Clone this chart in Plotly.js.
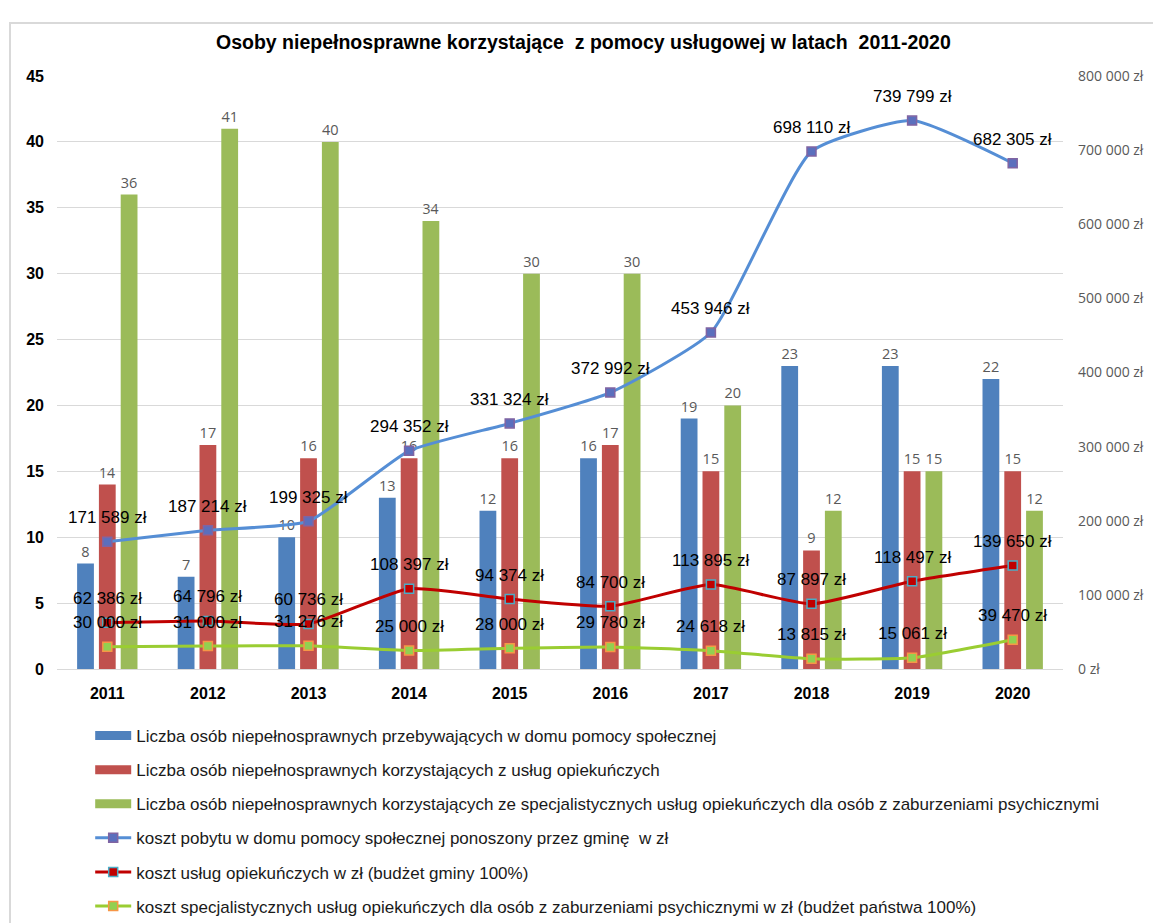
<!DOCTYPE html>
<html><head><meta charset="utf-8">
<script src="https://cdn.plot.ly/plotly-3.0.1.min.js"></script>
<style>
html,body{margin:0;padding:0;background:#fff;overflow:hidden;width:1153px;height:923px;}
#wrap{position:relative;width:1153px;height:923px;overflow:hidden;}
#chart{width:1153px;height:960px;}
#frame{position:absolute;left:9px;top:22px;width:1160px;height:920px;border:2px solid #d9d9d9;pointer-events:none;}
</style>
</head><body>
<div id="wrap"><div id="chart"></div><div id="frame"></div></div>
<script>
const years = ['2011','2012','2013','2014','2015','2016','2017','2018','2019','2020'];
const dpsCount = [8,7,10,13,12,16,19,23,23,22];
const opiekCount = [14,17,16,16,16,17,15,9,15,15];
const specCount = [36,41,40,34,30,30,20,12,15,12];
const dpsCost = [171589,187214,199325,294352,331324,372992,453946,698110,739799,682305];
const opiekCost = [62386,64796,60736,108397,94374,84700,113895,87897,118497,139650];
const specCost = [30000,31000,31276,25000,28000,29780,24618,13815,15061,39470];
const names = [
 'Liczba osób niepełnosprawnych przebywających w domu pomocy społecznej',
 'Liczba osób niepełnosprawnych korzystających z usług opiekuńczych',
 'Liczba osób niepełnosprawnych korzystających ze specjalistycznych usług opiekuńczych dla osób z zaburzeniami psychicznymi',
 'koszt pobytu w domu pomocy społecznej ponoszony przez gminę  w zł',
 'koszt usług opiekuńczych w zł (budżet gminy 100%)',
 'koszt specjalistycznych usług opiekuńczych dla osób z zaburzeniami psychicznymi w zł (budżet państwa 100%)'
];
const NF = '"Liberation Sans Narrow", "Arial Narrow", "Liberation Sans", Arial, sans-serif';
const barFont = {family:'"Open Sans", "Liberation Sans", sans-serif', size:14.5, color:'#595959'};
function bar(y, name, color, g){
  return {type:'bar', x:years, y:y, name:name, marker:{color:color},
    text:y.map(String), textposition:'outside', textfont:barFont, cliponaxis:false,
    legendgroup:g, showlegend:false, hoverinfo:'y'};
}
// legend key for a bar series (wide flat swatch, as in the original legend)
function barKey(name, color, g){
  return {type:'scatter', mode:'lines', x:[null], y:[null], name:name,
    line:{color:color, width:9}, legendgroup:g, showlegend:true, hoverinfo:'skip'};
}
function line(y, name, lc, mfill, mline, g){
  return {type:'scatter', mode:'lines+markers', x:years, y:y, yaxis:'y2', name:name,
    line:{color:lc, width:3, shape:'spline', smoothing:0.5},
    marker:{symbol:'square', size:9, color:mfill, line:{color:mline, width:1.5}},
    cliponaxis:false, legendgroup:g};
}
const data = [
  bar(dpsCount, names[0], '#4f81bd','a'),
  bar(opiekCount, names[1], '#c0504d','b'),
  bar(specCount, names[2], '#9bbb59','c'),
  barKey(names[0], '#4f81bd','a'),
  barKey(names[1], '#c0504d','b'),
  barKey(names[2], '#9bbb59','c'),
  line(dpsCost, names[3], '#558ed5', '#5b6fbd', '#8064a2','d'),
  line(opiekCost, names[4], '#c00000', '#c00000', '#4bacc6','e'),
  line(specCost, names[5], '#9acd32', '#92d050', '#f79646','f')
];
const fmt = v => String(v).replace(/\B(?=(\d{3})+(?!\d))/g, ' ') + ' zł';
const annotations = [];
[dpsCost, opiekCost, specCost].forEach(series => {
  series.forEach((v, i) => {
    annotations.push({x:i, y:v, xref:'x', yref:'y2', text:fmt(v), showarrow:false,
      yshift:24, xanchor:'center', yanchor:'middle',
      font:{family:NF, size:17, color:'#000'}});
  });
});
const H = 960;
const layout = {
  width:1153, height:H,
  margin:{l:57, r:90, t:76, b:H-669},
  separators:', ',
  paper_bgcolor:'#fff', plot_bgcolor:'#fff',
  title:{text:'Osoby niepełnosprawne korzystające  z pomocy usługowej w latach  2011-2020',
    font:{family:NF, size:19.5, color:'#000', weight:'bold'}, x:0.506, xanchor:'center', y:1-42/H, yanchor:'middle'},
  barmode:'group', bargap:0.35, bargroupgap:0.23,
  xaxis:{type:'category', range:[-0.5, 9.5], tickfont:{family:'"Liberation Sans", Arial, sans-serif', size:16, color:'#000', weight:'bold'},
    showline:true, linecolor:'#d9d9d9', linewidth:1, ticks:'', showgrid:false, ticklabelstandoff:10},
  yaxis:{range:[0,45], dtick:5, tickfont:{family:'"Liberation Sans", Arial, sans-serif', size:16, color:'#000', weight:'bold'},
    showgrid:true, gridcolor:'#d9d9d9', gridwidth:1, zeroline:false, showline:false, ticks:'', ticklabelstandoff:12},
  yaxis2:{range:[0,800000], dtick:100000, overlaying:'y', side:'right', tickformat:',d', ticksuffix:' zł',
    tickfont:{family:'"Open Sans", "Liberation Sans", sans-serif', size:14, color:'#595959'},
    showgrid:false, zeroline:false, showline:false, ticks:'', ticklabelstandoff:14},
  annotations: annotations,
  showlegend:true,
  legend:{orientation:'v', x:0.033, xanchor:'left', y:-(718-669)/593, yanchor:'top',
    traceorder:'grouped', tracegroupgap:9,
    font:{family:NF, size:17, color:'#1a1a1a'}, itemwidth:36, bgcolor:'rgba(0,0,0,0)'}
};
Plotly.newPlot('chart', data, layout, {displayModeBar:false, staticPlot:true});
</script>
</body></html>
